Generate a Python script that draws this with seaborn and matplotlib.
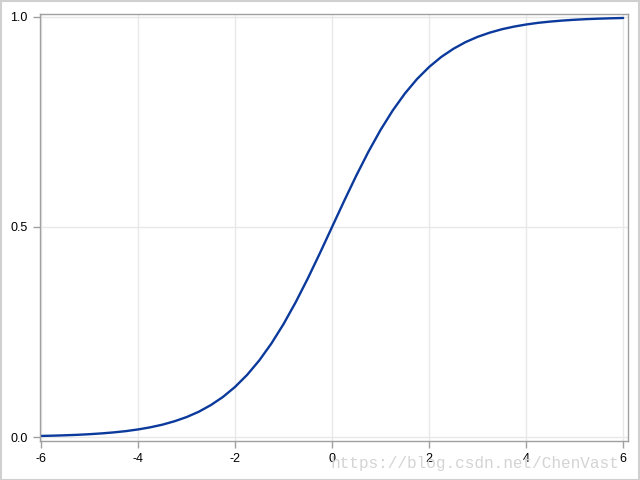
import numpy as np
import pandas as pd
import matplotlib
matplotlib.use("Agg")
import matplotlib.pyplot as plt
from matplotlib.patches import Rectangle
import seaborn as sns

# values, x step 0.25
x_vals = [-6.0, -5.75, -5.5, -5.25, -5.0, -4.75, -4.5, -4.25, -4.0, -3.75,
          -3.5, -3.25, -3.0, -2.75, -2.5, -2.25, -2.0, -1.75, -1.5, -1.25,
          -1.0, -0.75, -0.5, -0.25, 0.0, 0.25, 0.5, 0.75, 1.0, 1.25,
          1.5, 1.75, 2.0, 2.25, 2.5, 2.75, 3.0, 3.25, 3.5, 3.75,
          4.0, 4.25, 4.5, 4.75, 5.0, 5.25, 5.5, 5.75, 6.0]
y_vals = [0.0025, 0.0032, 0.0041, 0.0052, 0.0067, 0.0086, 0.0110, 0.0140, 0.0180, 0.0230,
          0.0293, 0.0374, 0.0474, 0.0600, 0.0759, 0.0953, 0.1192, 0.1480, 0.1824, 0.2227,
          0.2689, 0.3208, 0.3775, 0.4378, 0.5000, 0.5622, 0.6225, 0.6792, 0.7311, 0.7773,
          0.8176, 0.8520, 0.8808, 0.9047, 0.9241, 0.9400, 0.9526, 0.9626, 0.9707, 0.9770,
          0.9820, 0.9860, 0.9890, 0.9914, 0.9933, 0.9948, 0.9959, 0.9968, 0.9975]
x_ticks = [-6, -4, -2, 0, 2, 4, 6]
y_ticks = [0.0, 0.5, 1.0]
y_tick_labels = ["0.0", "0.5", "1.0"]

df = pd.DataFrame({"x": x_vals, "y": y_vals})

sns.set_style("whitegrid")
plt.rcParams["font.family"] = ["Liberation Sans", "DejaVu Sans"]

fig = plt.figure(figsize=(6.4, 4.8), dpi=100)
ax = fig.add_axes([40 / 640, 39 / 480, 588 / 640, 427 / 480])

sns.lineplot(data=df, x="x", y="y", ax=ax, color="#0b3a9c", linewidth=1.7)

ax.set_xlim(-6.02, 6.1)
ax.set_ylim(-0.0095, 1.007)
ax.set_xticks(x_ticks)
ax.set_xticklabels([str(t) for t in x_ticks])
ax.set_yticks(y_ticks)
ax.set_yticklabels(y_tick_labels)
ax.set_xlabel("")
ax.set_ylabel("")

ax.grid(True, color="#e8e8e8", linewidth=1.0)
for sp in ax.spines.values():
    sp.set_visible(True)
    sp.set_color("#a0a0a0")
    sp.set_linewidth(1.0)
ax.tick_params(axis="both", direction="out", length=5, width=1, color="#a0a0a0",
               labelsize=9, labelcolor="black", pad=4)
ax.tick_params(bottom=True, left=True)

# light frame around the whole image
fig.patches.append(Rectangle((0.001, 0.001), 0.997, 0.997, transform=fig.transFigure,
                             fill=False, edgecolor="#d0d0d0", linewidth=1.5))

# watermark
fig.text(330 / 640, 1 - 468 / 480, "https://blog.csdn.net/ChenVast", family="Liberation Mono",
         fontsize=11.6, color="#d4d4d4", ha="left", va="baseline")

fig.savefig("out.png", dpi=100)
